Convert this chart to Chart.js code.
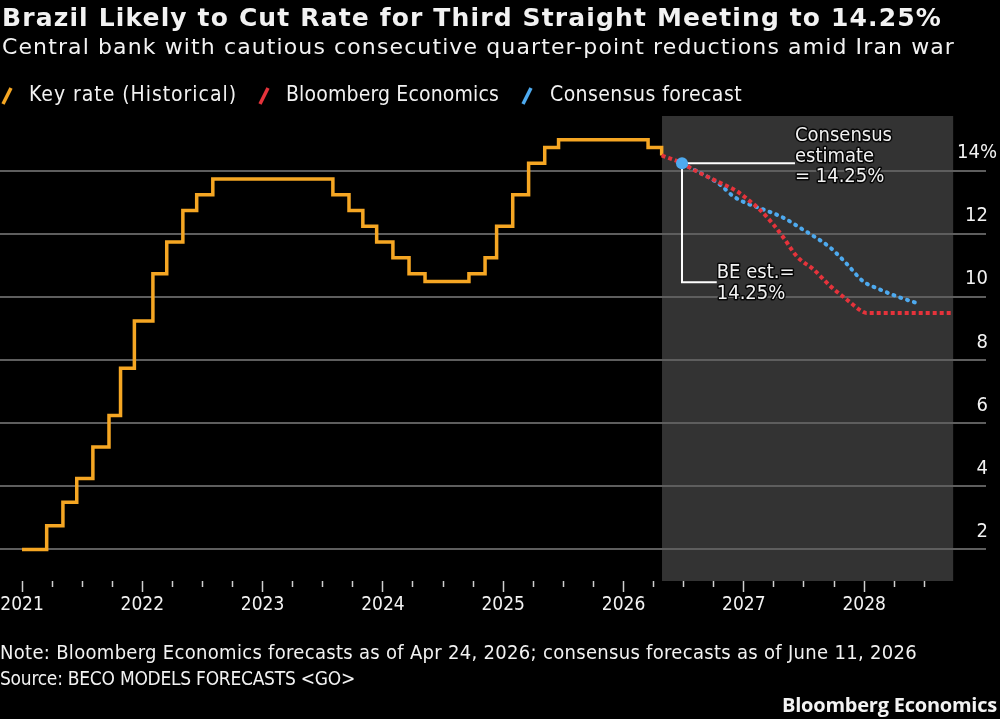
<!DOCTYPE html>
<html>
<head>
<meta charset="utf-8">
<title>Brazil key rate</title>
<script src="https://cdn.jsdelivr.net/npm/chart.js@4.4.1/dist/chart.umd.min.js"></script>
<style>
    html, body { margin: 0; padding: 0; background: #000; }
    #wrap { position: relative; width: 1000px; height: 719px; }
</style>
</head>
<body>
<div id="wrap"><canvas id="rateChart" width="1000" height="719"></canvas></div>
<script>
// Key rate history (decimal year of each decision, new rate)
const histDates = [2021.0, 2021.205, 2021.340, 2021.455, 2021.589, 2021.723, 2021.819, 2021.934,
    2022.088, 2022.203, 2022.337, 2022.452, 2022.586, 2023.584, 2023.718, 2023.833, 2023.948,
    2024.083, 2024.217, 2024.350, 2024.715, 2024.849, 2024.945, 2025.079, 2025.211, 2025.345,
    2025.460, 2026.204, 2026.317];
const histRates = [2.00, 2.75, 3.50, 4.25, 5.25, 6.25, 7.75, 9.25,
    10.75, 11.75, 12.75, 13.25, 13.75, 13.25, 12.75, 12.25, 11.75,
    11.25, 10.75, 10.50, 10.75, 11.25, 12.25, 13.25, 14.25, 14.75,
    15.00, 14.75, 14.50];

// Bloomberg Economics forecast
const beDates = [2026.317, 2026.486, 2026.58, 2026.775, 2026.94, 2027.05, 2027.13, 2027.245,
    2027.33, 2027.44, 2027.58, 2027.72, 2027.855, 2027.98, 2028.02, 2028.72];
const beRates = [14.50, 14.25, 14.05, 13.68, 13.37, 13.05, 12.79, 12.31,
    11.89, 11.30, 10.88, 10.35, 9.93, 9.56, 9.50, 9.50];

// Consensus forecast
const csDates = [2026.486, 2026.80, 2026.91, 2027.05, 2027.16, 2027.33, 2027.49, 2027.58,
    2027.72, 2027.86, 2027.99, 2028.13, 2028.27, 2028.45];
const csRates = [14.25, 13.58, 13.21, 12.94, 12.79, 12.52, 12.15, 11.94,
    11.57, 11.04, 10.51, 10.25, 10.03, 9.80];

// Axis ticks
const yearTicks = [2021, 2022, 2023, 2024, 2025, 2026, 2027, 2028];
const rateTicks = [2, 4, 6, 8, 10, 12, 14];

// Forecast period (shaded) and the estimate marker
const forecastStart = 2026.32;
const forecastEnd = 2028.74;
const estimateDate = 2026.486;
const estimateRate = 14.25;

const COLORS = {
    orange: '#f5a623',
    red: '#e5333b',
    blue: '#4eaaef',
    text: '#f2f2f2',
    grid: '#5e5e5e',
    shade: '#333333',
    tick: '#cfcfcf'
};
const FONT = 'DejaVu Sans';
const FONT_C = 'DejaVu Sans Condensed';

function toPoints(xs, ys) {
    return xs.map((x, i) => ({ x: x, y: ys[i] }));
}

// quarter ticks along the x axis, up to mid 2028
const quarterTicks = yearTicks.flatMap(y => [y, y + 0.25, y + 0.5, y + 0.75]).filter(v => v <= 2028.5);

// draw text spread to a given width
function fitText(ctx, str, x, y, font, width, color) {
    ctx.font = font;
    ctx.letterSpacing = '0px';
    const w = ctx.measureText(str).width;
    if (width) ctx.letterSpacing = ((width - w) / str.length) + 'px';
    ctx.fillStyle = color || COLORS.text;
    ctx.textAlign = 'left';
    ctx.textBaseline = 'alphabetic';
    ctx.fillText(str, x, y);
    ctx.letterSpacing = '0px';
}

function haloText(ctx, str, x, y) {
    ctx.font = '20px "' + FONT_C + '"';
    ctx.textAlign = 'left';
    ctx.textBaseline = 'alphabetic';
    ctx.lineJoin = 'round';
    ctx.lineWidth = 3;
    ctx.strokeStyle = 'rgba(0,0,0,0.85)';
    ctx.strokeText(str, x, y);
    ctx.fillStyle = COLORS.text;
    ctx.fillText(str, x, y);
}

// grey box behind the forecast period
const shadePlugin = {
    id: 'shade',
    beforeDraw(chart) {
        const { ctx, chartArea, scales } = chart;
        const x1 = scales.x.getPixelForValue(forecastStart);
        const x2 = scales.x.getPixelForValue(forecastEnd);
        ctx.save();
        ctx.fillStyle = COLORS.shade;
        ctx.fillRect(x1, chartArea.top, x2 - x1, chartArea.bottom - chartArea.top);
        ctx.restore();
    }
};

// leader lines for the callouts
const leaderPlugin = {
    id: 'leaders',
    beforeDatasetsDraw(chart) {
        const { ctx, scales } = chart;
        const px = scales.x.getPixelForValue(estimateDate);
        const py = scales.y.getPixelForValue(estimateRate);
        const consX = scales.x.getPixelForValue(2027.425);
        const beX = scales.x.getPixelForValue(2026.775);
        const beY = scales.y.getPixelForValue(10.48);
        ctx.save();
        ctx.strokeStyle = '#ffffff';
        ctx.lineWidth = 2;
        ctx.beginPath();
        ctx.moveTo(px, py);
        ctx.lineTo(consX, py);
        ctx.moveTo(px, py);
        ctx.lineTo(px, beY);
        ctx.lineTo(beX, beY);
        ctx.stroke();
        ctx.restore();
    }
};

// titles, legend, callout text, notes
const textPlugin = {
    id: 'texts',
    afterDraw(chart) {
        const { ctx, scales } = chart;
        ctx.save();
        fitText(ctx, 'Brazil Likely to Cut Rate for Third Straight Meeting to 14.25%', 2, 26,
            'bold 25px "' + FONT + '"', 940);
        fitText(ctx, 'Central bank with cautious consecutive quarter-point reductions amid Iran war', 2, 54,
            '22px "' + FONT + '"', 953);

        // legend
        const legend = [
            { label: 'Key rate (Historical)', color: COLORS.orange, mark: 3, x: 29, w: 208 },
            { label: 'Bloomberg Economics', color: COLORS.red, mark: 260, x: 286, w: 213 },
            { label: 'Consensus forecast', color: COLORS.blue, mark: 523, x: 550, w: 192 }
        ];
        legend.forEach(item => {
            ctx.strokeStyle = item.color;
            ctx.lineWidth = 3.5;
            ctx.beginPath();
            ctx.moveTo(item.mark, 104);
            ctx.lineTo(item.mark + 8, 88);
            ctx.stroke();
            fitText(ctx, item.label, item.x, 101, '21px "' + FONT_C + '"', item.w);
        });

        // callouts
        const consX = scales.x.getPixelForValue(2027.425);
        const beX = scales.x.getPixelForValue(2026.775);
        haloText(ctx, 'Consensus', consX, 141);
        haloText(ctx, 'estimate', consX, 161.5);
        haloText(ctx, '= 14.25%', consX, 182);
        haloText(ctx, 'BE est.=', beX, 278);
        haloText(ctx, '14.25%', beX, 299);

        // notes
        fitText(ctx, 'Note: Bloomberg Economics forecasts as of Apr 24, 2026; consensus forecasts as of June 11, 2026',
            0, 659, '20px "' + FONT_C + '"', 917);
        fitText(ctx, 'Source: BECO MODELS FORECASTS <GO>', 0, 685, '19px "' + FONT_C + '"', 355);
        fitText(ctx, 'Bloomberg Economics', 782, 712, 'bold 20px "Open Sans"', 215);
        ctx.restore();
    }
};

const ctx = document.getElementById('rateChart');
const chart = new Chart(ctx, {
    type: 'line',
    data: {
        datasets: [{
            label: 'Estimate',
            data: [{ x: estimateDate, y: estimateRate }],
            showLine: false,
            pointRadius: 6,
            pointBackgroundColor: COLORS.blue,
            pointBorderWidth: 0,
            order: 0
        }, {
            label: 'Bloomberg Economics',
            data: toPoints(beDates, beRates),
            borderColor: COLORS.red,
            borderWidth: 4,
            borderDash: [4, 3],
            borderCapStyle: 'butt',
            cubicInterpolationMode: 'monotone',
            pointRadius: 0,
            order: 1
        }, {
            label: 'Consensus forecast',
            data: toPoints(csDates, csRates),
            borderColor: COLORS.blue,
            borderWidth: 4,
            borderDash: [1, 6.2],
            borderCapStyle: 'round',
            cubicInterpolationMode: 'monotone',
            pointRadius: 0,
            order: 2
        }, {
            label: 'Key rate (Historical)',
            data: toPoints(histDates, histRates),
            borderColor: COLORS.orange,
            borderWidth: 3.5,
            stepped: 'before',
            borderJoinStyle: 'miter',
            pointRadius: 0,
            order: 3
        }]
    },
    options: {
        responsive: false,
        devicePixelRatio: 1,
        animation: false,
        layout: {
            autoPadding: false,
            padding: { top: 116, right: 14, bottom: 98, left: 0 }
        },
        plugins: {
            legend: { display: false },
            tooltip: { enabled: false }
        },
        scales: {
            x: {
                type: 'linear',
                min: 2020.817,
                max: 2029.013,
                afterBuildTicks: scale => { scale.ticks = quarterTicks.map(v => ({ value: v })); },
                afterFit: scale => {
                    scale.height = 40;
                    scale.paddingLeft = 0;
                    scale.paddingRight = 0;
                },
                border: { display: false },
                grid: {
                    drawOnChartArea: false,
                    drawTicks: true,
                    tickLength: 11,
                    tickWidth: 1.5,
                    tickColor: COLORS.tick,
                    tickBorderDash: c => (c.tick && Number.isInteger(c.tick.value)) ? [] : [6, 40]
                },
                ticks: {
                    autoSkip: false,
                    maxRotation: 0,
                    padding: 2,
                    color: COLORS.text,
                    font: { family: FONT_C, size: 19 },
                    callback: v => Number.isInteger(v) ? String(v) : ''
                }
            },
            y: {
                type: 'linear',
                position: 'right',
                min: 1,
                max: 15.75,
                afterBuildTicks: scale => { scale.ticks = rateTicks.map(v => ({ value: v })); },
                afterFit: scale => {
                    scale.width = 0;
                    scale.paddingTop = 0;
                    scale.paddingBottom = 0;
                },
                border: { display: false },
                grid: {
                    color: COLORS.grid,
                    lineWidth: 2,
                    drawTicks: false
                },
                ticks: {
                    mirror: true,
                    padding: 11,
                    color: COLORS.text,
                    font: { family: FONT_C, size: 20, lineHeight: 1.8 },
                    callback: v => [v === 14 ? '14%' : String(v) + '\u2002', '']
                }
            }
        }
    },
    plugins: [shadePlugin, leaderPlugin, textPlugin]
});
</script>
</body>
</html>
